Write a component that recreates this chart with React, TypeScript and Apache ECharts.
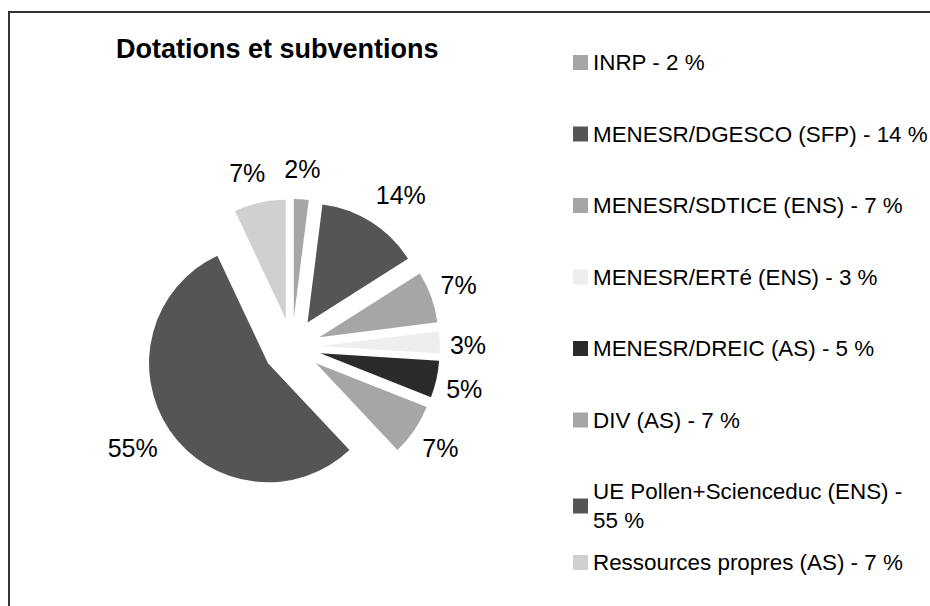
import React, { useEffect, useRef } from 'react';
import * as echarts from 'echarts';

const categories = [
  'INRP',
  'MENESR/DGESCO (SFP)',
  'MENESR/SDTICE (ENS)',
  'MENESR/ERTé (ENS)',
  'MENESR/DREIC (AS)',
  'DIV (AS)',
  'UE Pollen+Scienceduc (ENS)',
  'Ressources propres (AS)',
];
const values = [2, 14, 7, 3, 5, 7, 55, 7];
const sliceColors = ['#a6a6a6', '#555555', '#a6a6a6', '#eeeeee', '#2b2b2b', '#a6a6a6', '#555555', '#d0d0d0'];
const title = 'Dotations et subventions';

const FONT = "'Liberation Sans', Arial, Helvetica, sans-serif";
const PIE_CX = 292;
const PIE_CY = 347;
const PIE_R = 119;
const EXPLODE = 29;
const LABEL_GAP = 12;

const clamp1 = (v: number) => Math.max(-1, Math.min(1, v));

export default function App() {
  const ref = useRef<HTMLDivElement>(null);
  useEffect(() => {
    if (!ref.current) return;
    const chart = echarts.init(ref.current, undefined, { renderer: 'svg' });
    const valueOf: Record<string, number> = {};
    categories.forEach((c, i) => (valueOf[c] = values[i]));
    const total = values.reduce((a, b) => a + b, 0);
    const midAngles: number[] = [];
    let acc = 0;
    values.forEach((v) => {
      midAngles.push(((acc + v / 2) / total) * Math.PI * 2);
      acc += v;
    });
    const legendText = { fontFamily: FONT, fontSize: 22.4, color: '#000', lineHeight: 29 };
    const legendFormatter = (name: string) =>
      name.length > 24 ? `${name} -\n${valueOf[name]} %` : `${name} - ${valueOf[name]} %`;
    chart.setOption({
      animation: false,
      backgroundColor: '#fff',
      color: sliceColors,
      title: {
        text: title,
        left: 116,
        top: 34,
        padding: 0,
        textStyle: { fontFamily: FONT, fontSize: 27, fontWeight: 'bold', color: '#000', lineHeight: 30 },
      },
      graphic: [
        {
          type: 'rect',
          shape: { x: 9, y: 12, width: 1000, height: 1000 },
          style: { fill: 'none', stroke: '#333', lineWidth: 2 },
          silent: true,
        },
      ],
      legend: [
        {
          orient: 'vertical',
          left: 573,
          top: 48,
          padding: 0,
          itemGap: 42.5,
          itemWidth: 15,
          itemHeight: 15,
          icon: 'rect',
          selectedMode: false,
          data: categories.slice(0, 7),
          formatter: legendFormatter,
          textStyle: legendText,
        },
        {
          orient: 'vertical',
          left: 573,
          top: 548,
          padding: 0,
          itemWidth: 15,
          itemHeight: 15,
          icon: 'rect',
          selectedMode: false,
          data: categories.slice(7),
          formatter: legendFormatter,
          textStyle: legendText,
        },
      ],
      series: [
        {
          type: 'pie',
          center: [PIE_CX, PIE_CY],
          radius: PIE_R,
          startAngle: 90,
          clockwise: true,
          selectedMode: 'multiple',
          selectedOffset: EXPLODE,
          emphasis: { disabled: true },
          itemStyle: { borderWidth: 0 },
          label: { show: false },
          labelLine: { show: false },
          data: categories.map((c, i) => ({ name: c, value: values[i], selected: true })),
        },
        {
          // invisible twin pie that only carries the percentage labels
          type: 'pie',
          center: [PIE_CX, PIE_CY],
          radius: PIE_R,
          startAngle: 90,
          clockwise: true,
          silent: true,
          selectedMode: false,
          legendHoverLink: false,
          avoidLabelOverlap: false,
          emphasis: { disabled: true },
          itemStyle: { color: 'rgba(0,0,0,0)', borderWidth: 0 },
          label: {
            show: true,
            position: 'outside',
            fontFamily: FONT,
            fontSize: 25,
            color: '#000',
            formatter: (p: any) => `${Math.round(p.percent)}%`,
          },
          labelLine: { show: false },
          labelLayout: (params: any) => {
            const a = midAngles[params.dataIndex];
            const ux = Math.sin(a);
            const uy = -Math.cos(a);
            const w = params.labelRect.width;
            const h = params.labelRect.height;
            const d = EXPLODE + PIE_R + LABEL_GAP;
            return {
              x: PIE_CX + ux * d + (clamp1(2 * ux) * w) / 2 - 2,
              y: PIE_CY + uy * d + (clamp1(2 * uy) * h) / 2 + 4 - 10 * Math.abs(uy),
              align: 'center',
              verticalAlign: 'middle',
              hideOverlap: false,
            };
          },
          data: values.map((v) => ({ value: v })),
        },
      ],
    });
    return () => chart.dispose();
  }, []);
  return <div ref={ref} style={{ position: 'absolute', left: 0, top: 0, width: 930, height: 606 }} />;
}
